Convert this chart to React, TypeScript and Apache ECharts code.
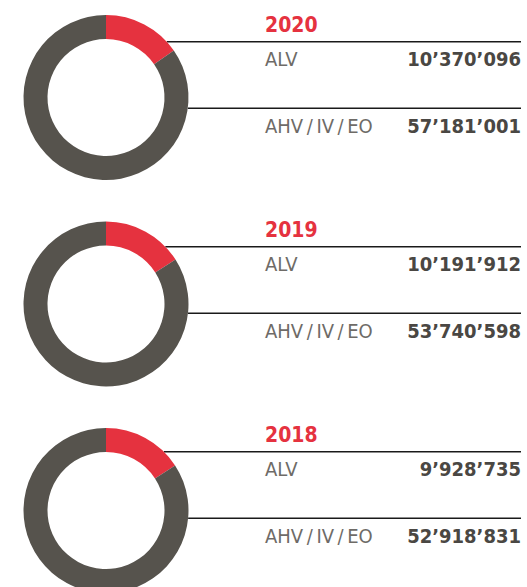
import React, { useEffect, useRef } from "react";
import * as echarts from "echarts";

const years = ["2020", "2019", "2018"];
const categories = ["ALV", "AHV / IV / EO"];
const alvValues = [10370096, 10191912, 9928735];
const ahvValues = [57181001, 53740598, 52918831];

const RED = "#E5323F";
const DARK = "#56534D";
const LABEL = "#6E6B67";
const NUM = "#4A4743";
const FONT = "'Liberation Sans Narrow', 'DejaVu Sans Condensed', 'Open Sans', sans-serif";

const fmt = (v: number) => String(v).replace(/\B(?=(\d{3})+(?!\d))/g, "\u2019");

export default function App() {
  const ref = useRef<HTMLDivElement>(null);
  useEffect(() => {
    if (!ref.current) return;
    const chart = echarts.init(ref.current, null, { renderer: "svg" });
    const cx = 106;
    const rIn = 58.5;
    const rOut = 82.5;
    const donutTop = 97.5;
    const donutStep = 206.5;
    const lineTop = 41.7;
    const lineStep = 205;
    const textX = 265;
    const rightX = 521;

    const series: any[] = [];
    const graphics: any[] = [];
    years.forEach((y, i) => {
      const cy = donutTop + i * donutStep;
      series.push({
        type: "pie",
        center: [cx, cy],
        radius: [rIn, rOut],
        startAngle: 90,
        clockwise: true,
        label: { show: false },
        labelLine: { show: false },
        silent: true,
        data: [
          { name: categories[0], value: alvValues[i], itemStyle: { color: RED } },
          { name: categories[1], value: ahvValues[i], itemStyle: { color: DARK } },
        ],
      });
      const l1 = lineTop + i * lineStep;
      const l2 = l1 + 66.5;
      const edgeX = (ly: number) => {
        const dy = ly - cy;
        return cx + Math.sqrt(Math.max(0, rOut * rOut - dy * dy));
      };
      graphics.push(
        { type: "line", shape: { x1: edgeX(l1), y1: l1, x2: rightX, y2: l1 }, style: { stroke: "#1a1a1a", lineWidth: 1.4 } },
        { type: "line", shape: { x1: edgeX(l2), y1: l2, x2: rightX, y2: l2 }, style: { stroke: "#1a1a1a", lineWidth: 1.4 } },
        { type: "text", x: textX, y: l1 - 16.5, style: { text: y, fill: RED, font: `bold 21px ${FONT}`, textVerticalAlign: "middle" } },
        { type: "text", x: textX, y: l1 + 17, style: { text: categories[0], fill: LABEL, font: `20px ${FONT}`, textVerticalAlign: "middle" } },
        { type: "text", x: rightX, y: l1 + 17, style: { text: fmt(alvValues[i]), fill: NUM, font: `bold 20px ${FONT}`, textAlign: "right", textVerticalAlign: "middle" } },
        { type: "text", x: textX, y: l2 + 17.5, style: { text: "AHV\u2009/\u2009IV\u2009/\u2009EO", fill: LABEL, font: `20px ${FONT}`, textVerticalAlign: "middle" } },
        { type: "text", x: rightX, y: l2 + 17.5, style: { text: fmt(ahvValues[i]), fill: NUM, font: `bold 20px ${FONT}`, textAlign: "right", textVerticalAlign: "middle" } }
      );
    });

    chart.setOption({
      animation: false,
      series,
      graphic: graphics,
    });
    return () => chart.dispose();
  }, []);
  return (
    <div
      ref={ref}
      style={{ position: "fixed", left: 0, top: 0, width: 527, height: 587, background: "#fff" }}
    />
  );
}
